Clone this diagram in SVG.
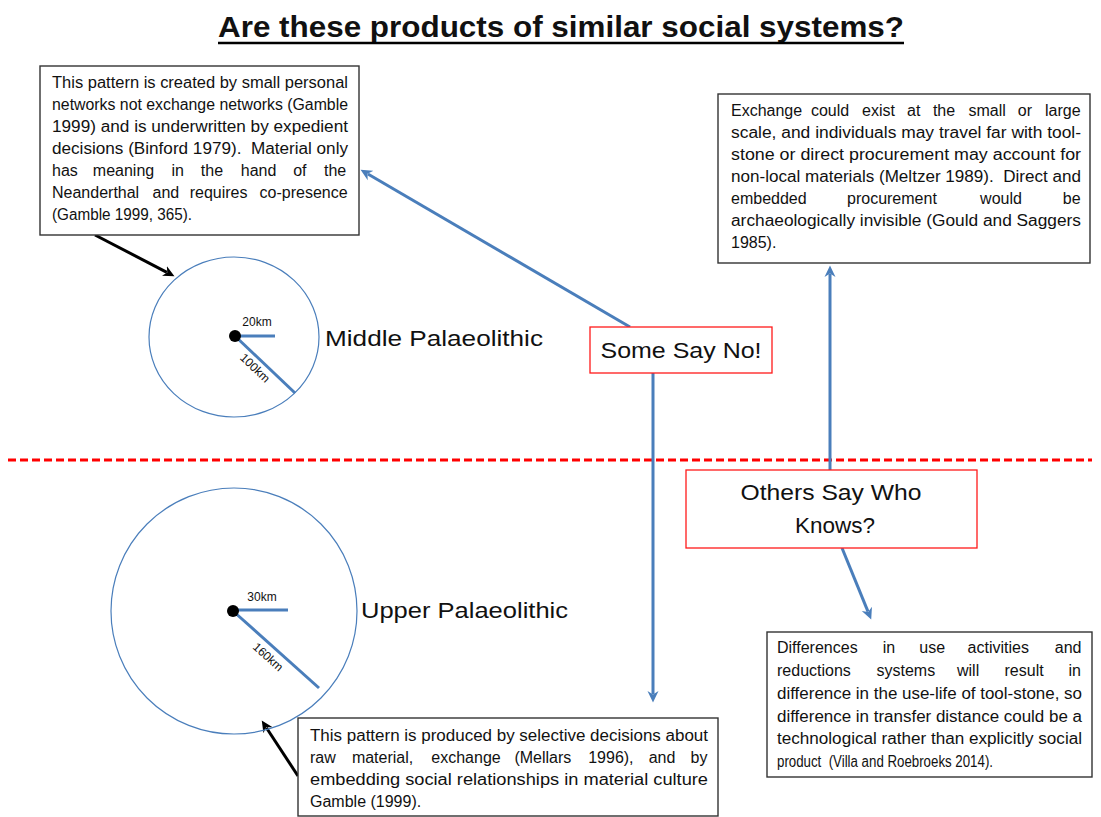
<svg xmlns="http://www.w3.org/2000/svg" width="1101" height="817" viewBox="0 0 1101 817">
<defs>
<style>
.t{font-family:"Liberation Sans",Arial,sans-serif;fill:#111;}
.body{font-size:16px;}
.lbl{font-size:22px;}
.km{font-size:12px;}
.box{fill:#fff;stroke:#333;stroke-width:1.4;}
.rbox{fill:#fff;stroke:#ff1a1a;stroke-width:1.3;}
.blue{stroke:#4a7ebb;stroke-width:3;fill:none;}
.blk{stroke:#000;stroke-width:3;fill:none;}
.ring{stroke:#4a7ebb;stroke-width:1.2;fill:none;}
</style>
<marker id="ab" viewBox="0 0 12 12" markerWidth="12" markerHeight="12" markerUnits="userSpaceOnUse" refX="3" refY="6" orient="auto">
<path d="M0,0.5 L11.5,6 L0,11.5 L3.5,6 z" fill="#4a7ebb"/>
</marker>
<marker id="ak" viewBox="0 0 12 12" markerWidth="12" markerHeight="12" markerUnits="userSpaceOnUse" refX="3" refY="6" orient="auto">
<path d="M0,0.5 L11.5,6 L0,11.5 L3.5,6 z" fill="#000"/>
</marker>
</defs>
<rect width="1101" height="817" fill="#fff"/>

<g id="title">
<text class="t" x="218" y="37" font-size="30" font-weight="bold" textLength="686" lengthAdjust="spacingAndGlyphs">Are these products of similar social systems?</text>
<line x1="218" y1="43" x2="904" y2="43" stroke="#000" stroke-width="2.5"/>
</g>

<g id="divider">
<line x1="8" y1="460" x2="1092" y2="460" stroke="#ff0000" stroke-width="3" stroke-dasharray="8 4"/>
</g>

<g id="connectors">
<line class="blue" x1="630" y1="327" x2="367.9" y2="174" marker-end="url(#ab)"/>
<line class="blue" x1="653" y1="373" x2="653" y2="694" marker-end="url(#ab)"/>
<line class="blue" x1="830" y1="470" x2="830" y2="274" marker-end="url(#ab)"/>
<line class="blue" x1="842" y1="548" x2="868" y2="611.6" marker-end="url(#ab)"/>
<line class="blk" x1="95" y1="235" x2="166.9" y2="272.3" marker-end="url(#ak)"/>
<line class="blk" x1="298" y1="776" x2="266.4" y2="727.7" marker-end="url(#ak)"/>
</g>

<g id="middle-circle">
<ellipse class="ring" cx="234" cy="337" rx="85" ry="80"/>
<line class="blue" x1="235" y1="336" x2="275" y2="336"/>
<line class="blue" x1="235" y1="336" x2="295" y2="393"/>
<circle cx="235" cy="336" r="6" fill="#000"/>
<text class="t km" x="257" y="326" text-anchor="middle">20km</text>
<text class="t km" transform="translate(255,368) rotate(43.5)" text-anchor="middle" y="4">100km</text>
</g>

<g id="middle-label">
<text class="t lbl" x="325" y="346" textLength="218" lengthAdjust="spacingAndGlyphs">Middle Palaeolithic</text>
</g>

<g id="upper-circle">
<circle class="ring" cx="234" cy="611" r="123"/>
<line class="blue" x1="233" y1="610" x2="288" y2="610"/>
<line class="blue" x1="233" y1="611" x2="319" y2="688"/>
<circle cx="233" cy="611" r="6" fill="#000"/>
<text class="t km" x="262" y="601" text-anchor="middle">30km</text>
<text class="t km" transform="translate(268,657) rotate(41.8)" text-anchor="middle" y="4">160km</text>
</g>

<g id="upper-label">
<text class="t lbl" x="361" y="618" textLength="207" lengthAdjust="spacingAndGlyphs">Upper Palaeolithic</text>
</g>

<g id="note-middle">
<rect class="box" x="40" y="66" width="319" height="169"/>
<text class="t body" x="52" y="88" textLength="296" lengthAdjust="spacingAndGlyphs">This pattern is created by small personal</text>
<text class="t body" x="52" y="110" textLength="296" lengthAdjust="spacingAndGlyphs">networks not exchange networks (Gamble</text>
<text class="t body" x="52" y="132" textLength="296" lengthAdjust="spacingAndGlyphs">1999) and is underwritten by expedient</text>
<text class="t body" x="52" y="154" textLength="296" lengthAdjust="spacingAndGlyphs" xml:space="preserve">decisions (Binford 1979).  Material only</text>
<text class="t body" y="176"><tspan x="52">has</tspan><tspan x="92.8">meaning</tspan><tspan x="171.4">in</tspan><tspan x="200.8">the</tspan><tspan x="240.8">hand</tspan><tspan x="293.2">of</tspan><tspan x="324">the</tspan></text>
<text class="t body" y="198"><tspan x="52">Neanderthal</tspan><tspan x="152.5">and</tspan><tspan x="189.7">requires</tspan><tspan x="259.6">co-presence</tspan></text>
<text class="t body" x="52" y="220" textLength="140" lengthAdjust="spacingAndGlyphs">(Gamble 1999, 365).</text>
</g>

<g id="note-exchange">
<rect class="box" x="718" y="94" width="372" height="169"/>
<text class="t body" y="116"><tspan x="731">Exchange</tspan><tspan x="810.9">could</tspan><tspan x="862">exist</tspan><tspan x="907.1">at</tspan><tspan x="932.9">the</tspan><tspan x="968.5">small</tspan><tspan x="1017.8">or</tspan><tspan x="1045">large</tspan></text>
<text class="t body" x="731" y="138" textLength="350" lengthAdjust="spacingAndGlyphs">scale, and individuals may travel far with tool-</text>
<text class="t body" x="731" y="160" textLength="350" lengthAdjust="spacingAndGlyphs">stone or direct procurement may account for</text>
<text class="t body" x="731" y="182" textLength="350" lengthAdjust="spacingAndGlyphs" xml:space="preserve">non-local materials (Meltzer 1989).  Direct and</text>
<text class="t body" y="204"><tspan x="731">embedded</tspan><tspan x="847">procurement</tspan><tspan x="980.1">would</tspan><tspan x="1062.8">be</tspan></text>
<text class="t body" x="731" y="226" textLength="350" lengthAdjust="spacingAndGlyphs">archaeologically invisible (Gould and Saggers</text>
<text class="t body" x="731" y="248">1985).</text>
</g>

<g id="note-upper">
<rect class="box" x="298" y="718" width="420" height="98"/>
<text class="t body" x="310" y="741" textLength="398" lengthAdjust="spacingAndGlyphs">This pattern is produced by selective decisions about</text>
<text class="t body" y="763"><tspan x="310">raw</tspan><tspan x="351.9">material,</tspan><tspan x="431.3">exchange</tspan><tspan x="514.4">(Mellars</tspan><tspan x="588.2">1996),</tspan><tspan x="648.7">and</tspan><tspan x="690.5">by</tspan></text>
<text class="t body" x="310" y="785" textLength="398" lengthAdjust="spacingAndGlyphs">embedding social relationships in material culture</text>
<text class="t body" x="310" y="807">Gamble (1999).</text>
</g>

<g id="note-tech">
<rect class="box" x="767" y="632" width="325" height="145"/>
<text class="t body" y="653"><tspan x="777">Differences</tspan><tspan x="882.7">in</tspan><tspan x="919.3">use</tspan><tspan x="967.6">activities</tspan><tspan x="1054.8">and</tspan></text>
<text class="t body" y="676"><tspan x="777">reductions</tspan><tspan x="876.5">systems</tspan><tspan x="957">will</tspan><tspan x="1004.5">result</tspan><tspan x="1068.4">in</tspan></text>
<text class="t body" x="777" y="699" textLength="305" lengthAdjust="spacingAndGlyphs">difference in the use-life of tool-stone, so</text>
<text class="t body" x="777" y="722" textLength="305" lengthAdjust="spacingAndGlyphs">difference in transfer distance could be a</text>
<text class="t body" x="777" y="744" textLength="305" lengthAdjust="spacingAndGlyphs">technological rather than explicitly social</text>
<text class="t body" x="777" y="767" textLength="216" lengthAdjust="spacingAndGlyphs" xml:space="preserve">product  (Villa and Roebroeks 2014).</text>
</g>

<g id="some-say-no">
<rect class="rbox" x="590" y="327" width="182" height="46"/>
<text class="t lbl" x="681" y="358" text-anchor="middle" textLength="161" lengthAdjust="spacingAndGlyphs">Some Say No!</text>
</g>

<g id="others-say">
<rect class="rbox" x="686" y="470" width="291" height="78"/>
<text class="t lbl" x="831" y="500" text-anchor="middle" textLength="181" lengthAdjust="spacingAndGlyphs">Others Say Who</text>
<text class="t lbl" x="835" y="533" text-anchor="middle" textLength="80" lengthAdjust="spacingAndGlyphs">Knows?</text>
</g>
</svg>
